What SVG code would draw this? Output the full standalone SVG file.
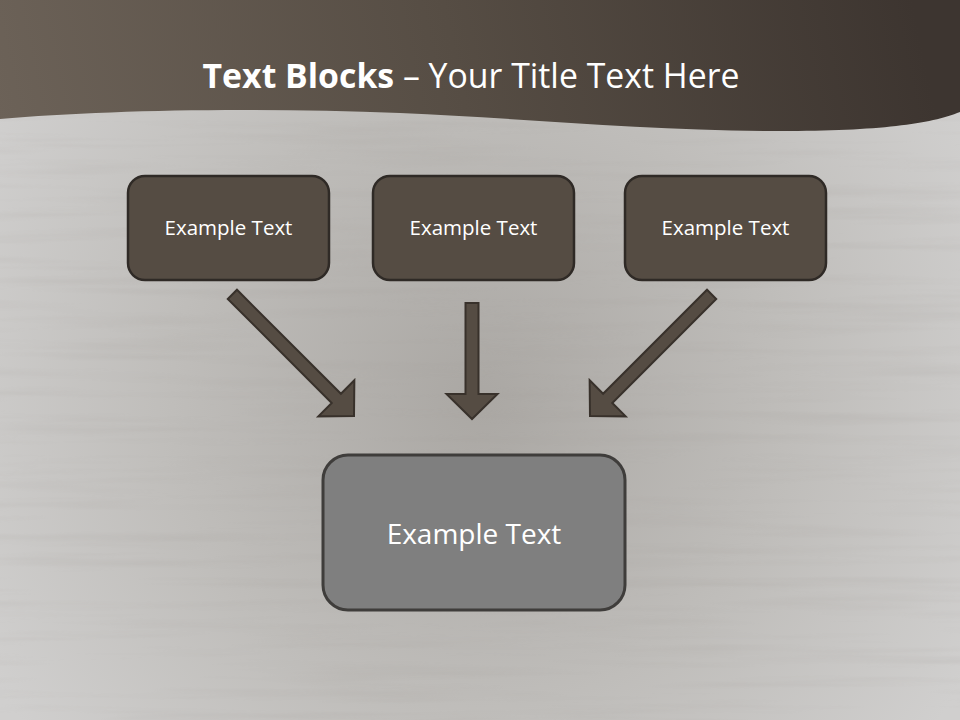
<svg xmlns="http://www.w3.org/2000/svg" width="960" height="720" viewBox="0 0 960 720">
<defs>
<radialGradient id="bg" cx="480" cy="400" r="560" gradientUnits="userSpaceOnUse">
<stop offset="0" stop-color="#aaa7a3"/>
<stop offset="0.55" stop-color="#bfbdba"/>
<stop offset="1" stop-color="#d0cfce"/>
</radialGradient>
<linearGradient id="hdr" x1="0" y1="130" x2="900" y2="-60" gradientUnits="userSpaceOnUse">
<stop offset="0" stop-color="#6c6258"/>
<stop offset="0.5" stop-color="#564d44"/>
<stop offset="1" stop-color="#3d3530"/>
</linearGradient>
<filter id="grain" x="0" y="0" width="100%" height="100%">
<feTurbulence type="fractalNoise" baseFrequency="0.004 0.09" numOctaves="3" seed="4" result="n"/>
<feColorMatrix type="matrix" values="0 0 0 0 0.35  0 0 0 0 0.33  0 0 0 0 0.31  0 0 0 1.6 -0.75"/>
</filter>
</defs>
<style>
.top rect{fill:#554c43;stroke:#2f2a26;stroke-width:2.5}
.top text{fill:#ffffff;font-family:"Open Sans","Liberation Sans",sans-serif;font-size:20.5px;text-anchor:middle}
.arrow{fill:#554c43;stroke:#38312b;stroke-width:2;stroke-linejoin:miter}
.title{fill:#ffffff;font-family:"Open Sans","Liberation Sans",sans-serif;font-size:33.8px}
</style>
<rect width="960" height="720" fill="url(#bg)"/>
<rect width="960" height="720" filter="url(#grain)" opacity="0.2"/>
<path d="M0,0 H960 V112 C930,124 880,131 780,131 C650,131 520,118 400,113 C250,107 100,110 0,119 Z" fill="url(#hdr)"/>
<text class="title" x="471" y="88" text-anchor="middle"><tspan font-weight="bold">Text Blocks</tspan> – Your Title Text Here</text>
<g id="node1" class="top"><rect x="128" y="176" width="201" height="104" rx="17"/><text x="228.5" y="235">Example Text</text></g>
<g id="node2" class="top"><rect x="373" y="176" width="201" height="104" rx="17"/><text x="473.5" y="235">Example Text</text></g>
<g id="node3" class="top"><rect x="625" y="176" width="201" height="104" rx="17"/><text x="725.5" y="235">Example Text</text></g>
<g id="node4"><rect x="323" y="455" width="302" height="155" rx="25" fill="#7f7f7f" stroke="#3f3d3b" stroke-width="3"/><text x="474" y="544" fill="#ffffff" font-family="'Open Sans','Liberation Sans',sans-serif" font-size="28" text-anchor="middle">Example Text</text></g>
<g id="connectors">
<path class="arrow" d="M465.5,303 H478.5 V394 H497.5 L472,419 L446.5,394 H465.5 Z"/>
<g transform="translate(354,416) rotate(-45)"><path class="arrow" d="M-6.5,-172 H6.5 V-25 H25.5 L0,0 L-25.5,-25 H-6.5 Z"/></g>
<g transform="translate(590,416) rotate(45)"><path class="arrow" d="M-6.5,-172 H6.5 V-25 H25.5 L0,0 L-25.5,-25 H-6.5 Z"/></g>
</g>
</svg>
